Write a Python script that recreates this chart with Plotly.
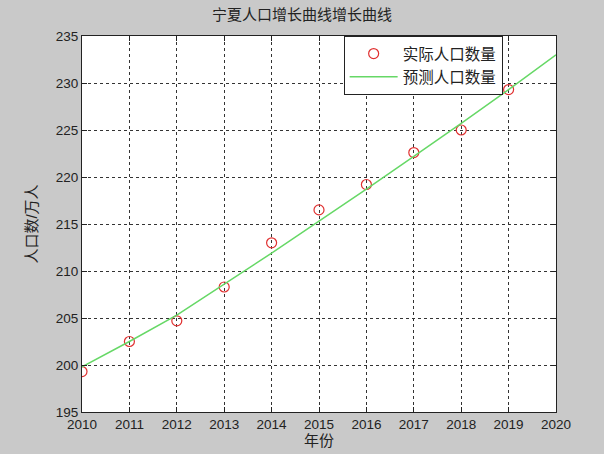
import plotly.graph_objects as go

years = [2010, 2011, 2012, 2013, 2014, 2015, 2016, 2017, 2018, 2019]
actual = [199.3, 202.5, 204.7, 208.3, 213.0, 216.5, 219.2, 222.6, 225.0, 229.3]
pred_years = [2010, 2011, 2012, 2013, 2014, 2015, 2016, 2017, 2018, 2019, 2020]
predicted = [199.8, 202.5, 205.3, 208.6, 211.9, 215.3, 218.7, 222.2, 225.7, 229.3, 233.0]
x_ticks = list(range(2010, 2021))
y_ticks = list(range(195, 236, 5))

CJK = "Liberation Sans, Noto Sans CJK SC"

fig = go.Figure()
fig.add_trace(go.Scatter(
    x=years, y=actual, mode="markers", name="实际人口数量",
    marker=dict(symbol="circle-open", size=10, color="#e03030", line=dict(width=1.2, color="#e03030")),
))
fig.add_trace(go.Scatter(
    x=pred_years, y=predicted, mode="lines", name="预测人口数量",
    line=dict(color="#66d866", width=1.5),
))

axis_common = dict(
    showline=True, linecolor="#222222", linewidth=1, mirror="ticks",
    ticks="inside", ticklen=5, tickcolor="#222222",
    showgrid=True, gridcolor="#333333", griddash="dot", gridwidth=1,
    zeroline=False,
    tickfont=dict(family=CJK, size=13.5, color="#222222"),
)

fig.update_xaxes(range=[2010, 2020], tickvals=x_ticks, **axis_common,
                 title=dict(text="年份", font=dict(family=CJK, size=15, color="#222222"), standoff=0))
fig.update_yaxes(range=[195, 235], tickvals=y_ticks, **axis_common,
                 title=dict(text="人口数/万人", font=dict(family=CJK, size=15, color="#222222"), standoff=14))

fig.update_layout(
    width=604, height=454,
    paper_bgcolor="#c9c9c9", plot_bgcolor="white",
    margin=dict(l=82, r=48, t=36, b=42),
    title=dict(text="宁夏人口增长曲线增长曲线", x=0.5, xanchor="center", y=0.978, yanchor="top",
               font=dict(family=CJK, size=15, color="#222222")),
    showlegend=True,
    legend=dict(x=0.552, y=1.0, xanchor="left", yanchor="top",
                bgcolor="white", bordercolor="#222222", borderwidth=1,
                font=dict(family=CJK, size=15.5, color="#222222"),
                tracegroupgap=0, itemwidth=48),
)

fig.write_html("out.html", config={"displayModeBar": False},
               post_script="document.body.style.margin='0';document.body.style.padding='0';")
